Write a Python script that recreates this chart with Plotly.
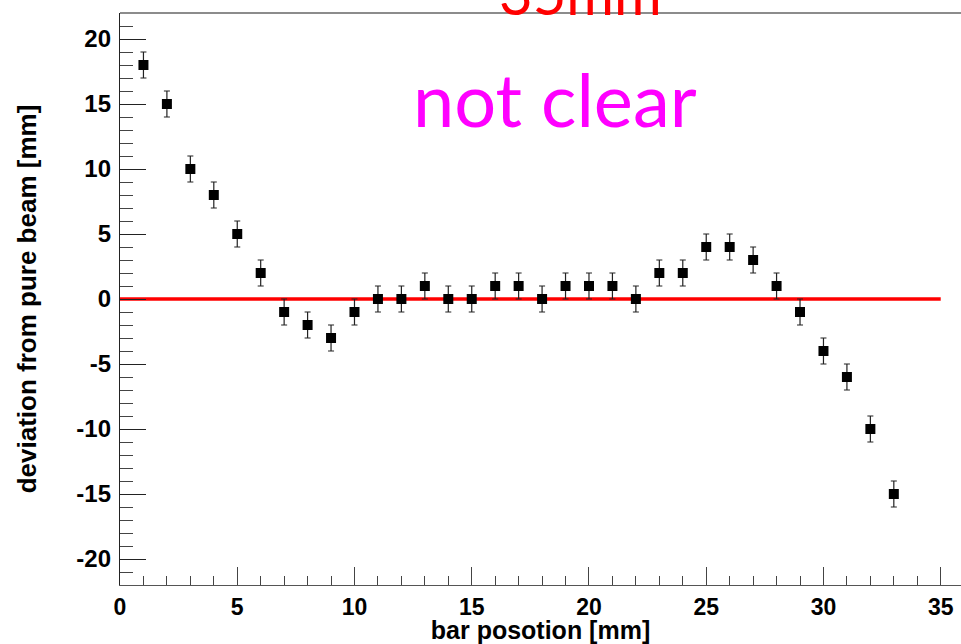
import plotly.graph_objects as go

bar_pos = list(range(1, 34))
deviation = [18, 15, 10, 8, 5, 2, -1, -2, -3, -1, 0, 0, 1, 0, 0, 1, 1, 0, 1, 1, 1, 0,
             2, 2, 4, 4, 3, 1, -1, -4, -6, -10, -15]
dev_err = [1] * len(bar_pos)

ref_x = [0, 35]
ref_y = [0, 0]

x_ticks = [0, 5, 10, 15, 20, 25, 30, 35]
y_ticks = [-20, -15, -10, -5, 0, 5, 10, 15, 20]
y_tick_text = ["-20", "-15", "-10", "-5", "0", "5", "10", "15", "20"]

FONT = "Liberation Sans, Arial, Helvetica, sans-serif"

fig = go.Figure()
fig.add_trace(go.Scatter(x=ref_x, y=ref_y, mode="lines",
                         line=dict(color="#ff0000", width=3.3), showlegend=False,
                         hoverinfo="skip"))
fig.add_trace(go.Scatter(x=bar_pos, y=deviation, mode="markers",
                         marker=dict(symbol="square", size=10, color="black"),
                         error_y=dict(type="data", array=dev_err, visible=True,
                                      color="#222222", thickness=1.2, width=3),
                         showlegend=False))

fig.add_annotation(text="not clear", xref="paper", yref="paper",
                   x=0.517, y=0.85, xanchor="center", yanchor="middle",
                   showarrow=False,
                   font=dict(family="Comic Sans MS, Lato, sans-serif", size=74, color="#ff00ff"))
fig.add_annotation(text="35mm", xref="paper", yref="paper",
                   x=0.547, y=1.0, xanchor="center", yanchor="bottom", yshift=-16,
                   showarrow=False,
                   font=dict(family="Comic Sans MS, Lato, sans-serif", size=58, color="#ff0000"))

fig.update_layout(
    width=961, height=644,
    margin=dict(l=120, r=0, t=13, b=59),
    paper_bgcolor="white", plot_bgcolor="white",
    font=dict(family=FONT, color="black"),
    xaxis=dict(range=[0, 35.865], tickvals=x_ticks, ticks="inside", ticklen=18,
               tickcolor="#444444", tickwidth=1, showgrid=False, zeroline=False,
               showline=True, linecolor="#555555", linewidth=1.3, mirror=False,
               tickfont=dict(family=FONT, size=23, weight="bold"),
               minor=dict(dtick=1, ticks="inside", ticklen=9, tickcolor="#444444", tickwidth=1),
               title=dict(text="bar posotion [mm]", font=dict(family=FONT, size=25, weight="bold"),
                          standoff=8),
               ticklabelstandoff=1),
    yaxis=dict(range=[-22, 22], tickvals=y_ticks, ticktext=y_tick_text, ticks="inside", ticklen=26,
               tickcolor="#222222", tickwidth=1, showgrid=False, zeroline=False,
               showline=True, linecolor="#222222", linewidth=1.3,
               tickfont=dict(family=FONT, size=24, weight="bold"),
               minor=dict(dtick=1, ticks="inside", ticklen=13, tickcolor="#444444", tickwidth=1),
               title=dict(text="deviation from pure beam [mm]",
                          font=dict(family=FONT, size=26, weight="bold"), standoff=32),
               ticklabelstandoff=3),
)
fig.add_shape(type="line", xref="paper", yref="paper", x0=0, x1=1, y0=1, y1=1,
              line=dict(color="#666666", width=1.3))

fig.write_html("out.html")
